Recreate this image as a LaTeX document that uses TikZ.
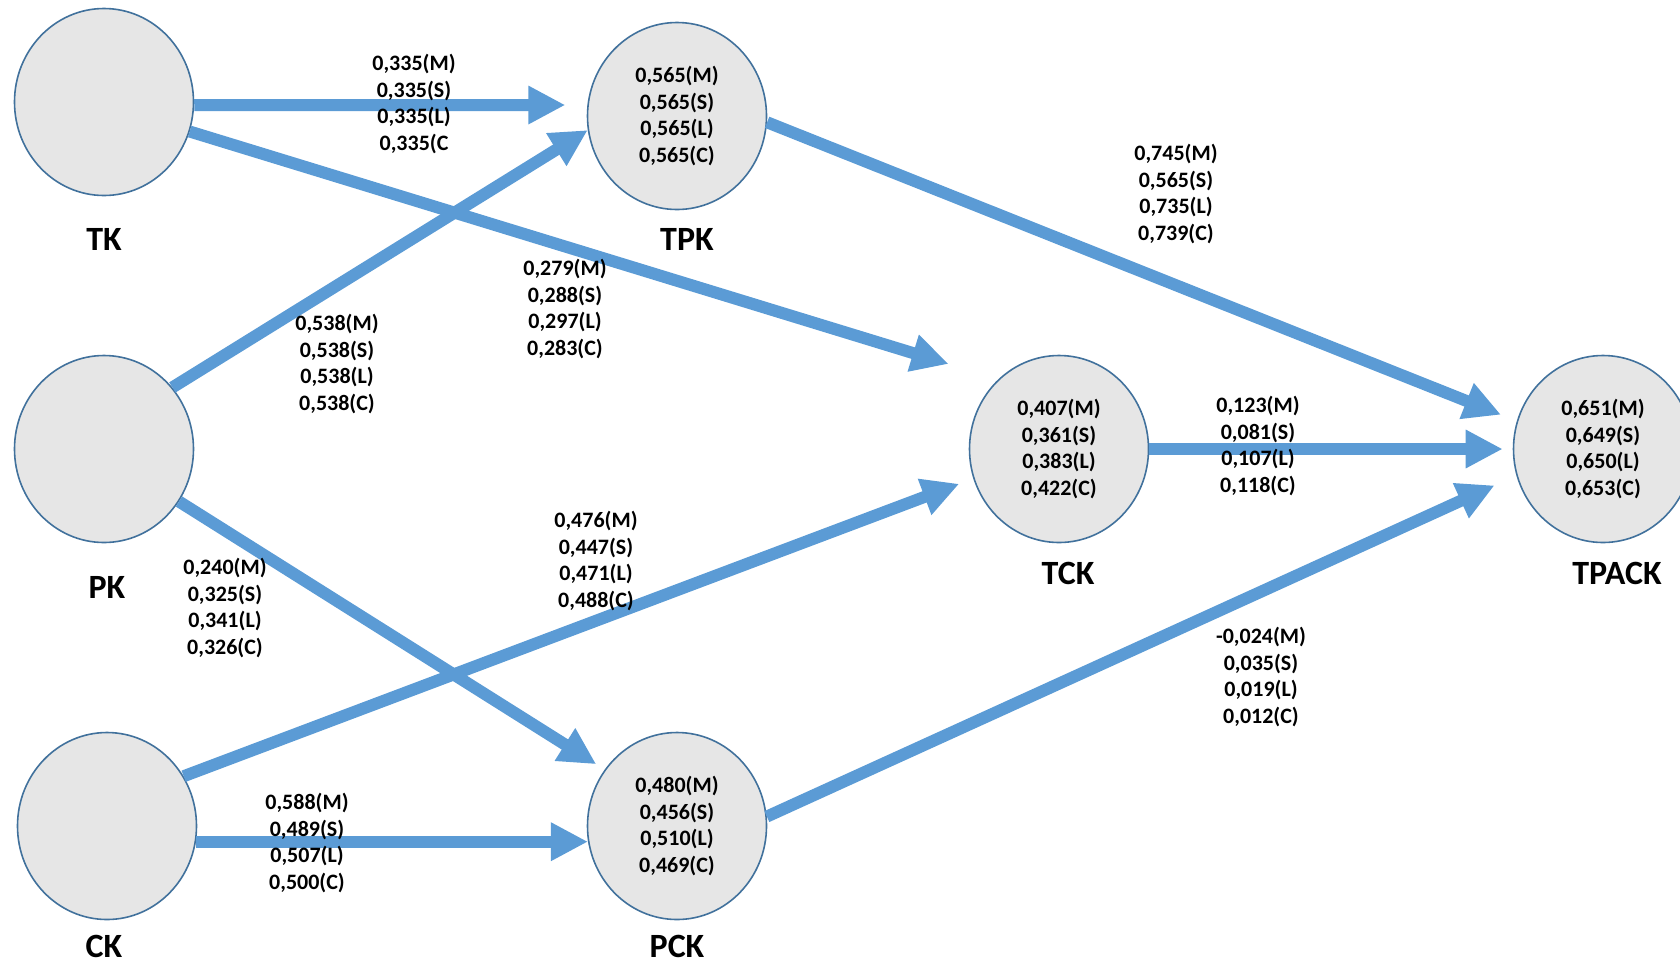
\documentclass[tikz,border=0pt]{standalone}
\usepackage{fontspec}
\setmainfont{Carlito}
\usetikzlibrary{arrows.meta,shapes.geometric}
\definecolor{flowblue}{HTML}{5B9BD5}
\definecolor{rimblue}{HTML}{41719C}
\definecolor{discgray}{HTML}{E6E6E6}

\begin{document}
\begin{tikzpicture}[x=0.5pt,y=-0.5pt,
  construct/.style={ellipse,draw=rimblue,line width=0.8pt,fill=discgray,minimum width=89.5pt,minimum height=93.5pt,inner sep=0pt,align=center,font=\fontsize{11}{13.2}\selectfont\bfseries},
  coef/.style={align=center,font=\fontsize{11}{13.2}\selectfont\bfseries},
  varname/.style={font=\fontsize{17}{20}\selectfont\bfseries},
  flow/.style={draw=flowblue,line width=6pt,-{Triangle[length=18.5pt,width=18pt]}}]
  \useasboundingbox (0,0) rectangle (1680,965);

  \node[construct] (tk) at (104,102) {};
  \node[construct] (pk) at (104,449) {};
  \node[construct] (ck) at (107,826) {};
  \node[construct] (tpk) at (677,116) {0,565(M)\\0,565(S)\\0,565(L)\\0,565(C)};
  \node[construct] (pck) at (677,826) {0,480(M)\\0,456(S)\\0,510(L)\\0,469(C)};
  \node[construct] (tck) at (1059,449) {0,407(M)\\0,361(S)\\0,383(L)\\0,422(C)};
  \node[construct] (tpack) at (1603,449) {0,651(M)\\0,649(S)\\0,650(L)\\0,653(C)};

  \node[varname] (tkname) at (104,239) {TK};
  \node[varname] (pkname) at (107,587) {PK};
  \node[varname] (ckname) at (104,946) {CK};
  \node[varname] (tpkname) at (687,239) {TPK};
  \node[varname] (pckname) at (677,946) {PCK};
  \node[varname] (tckname) at (1068,573) {TCK};
  \node[varname] (tpackname) at (1617,573) {TPACK};

  \path
  (tk.-2) edge[flow,shorten >=11pt] (tpk.173)
  (tk.-19) edge[flow,shorten >=26pt] (tck.131)
  (pk.42) edge[flow] (tpk.189)
  (pk.-35) edge[flow,shorten >=5pt] (pck.142)
  (ck.33) edge[flow,shorten >=7.5pt] (tck.199)
  (ck.-10) edge[flow] (pck.190)
  (tpk.-4) edge[flow,shorten >=8.5pt] (tpack.162)
  (tck) edge[flow,shorten >=5pt] (tpack)
  (pck.6) edge[flow,shorten >=12pt] (tpack.197);

  \node[coef] (tktpk) at (414,104) {0,335(M)\\0,335(S)\\0,335(L)\\0,335(C};
  \node[coef] (tktck) at (565,309) {0,279(M)\\0,288(S)\\0,297(L)\\0,283(C)};
  \node[coef] (pktpk) at (337,364) {0,538(M)\\0,538(S)\\0,538(L)\\0,538(C)};
  \node[coef] (pkpck) at (225,608) {0,240(M)\\0,325(S)\\0,341(L)\\0,326(C)};
  \node[coef] (cktck) at (596,561) {0,476(M)\\0,447(S)\\0,471(L)\\0,488(C)};
  \node[coef] (ckpck) at (307,843) {0,588(M)\\0,489(S)\\0,507(L)\\0,500(C)};
  \node[coef] (tpktpack) at (1176,194) {0,745(M)\\0,565(S)\\0,735(L)\\0,739(C)};
  \node[coef] (tcktpack) at (1258,446) {0,123(M)\\0,081(S)\\0,107(L)\\0,118(C)};
  \node[coef] (pcktpack) at (1261,677) {-0,024(M)\\0,035(S)\\0,019(L)\\0,012(C)};
\end{tikzpicture}
\end{document}
